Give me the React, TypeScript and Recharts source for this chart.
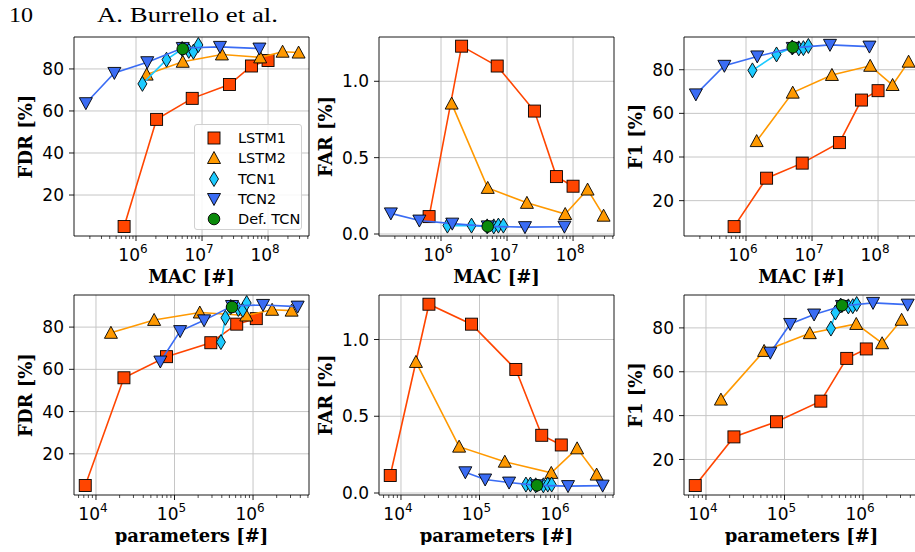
import React from "react";
import { ScatterChart, Scatter, XAxis, YAxis, CartesianGrid, ReferenceArea } from "recharts";

// values (x in MAC / parameters, y in %)
const macLstm1 = [6.6e5, 2.05e6, 7.1e6, 2.6e7, 5.6e7, 1.0e8];
const paramLstm1 = [7.3e3, 2.27e4, 7.9e4, 2.9e5, 6.2e5, 1.1e6];
const fdrLstm1 = [5, 56, 66, 72.6, 81.4, 84];
const farLstm1 = [0.114, 1.23, 1.1, 0.805, 0.376, 0.313];
const f1Lstm1 = [8.1, 30.3, 37.2, 46.6, 66.1, 70.4];

const macLstm2 = [1.45e6, 5.1e6, 2.0e7, 7.6e7, 1.66e8, 2.9e8];
const paramLstm2 = [1.55e4, 5.5e4, 2.1e5, 8.2e5, 1.75e6, 3.1e6];
const fdrLstm2 = [77.3, 83.4, 86.9, 85.5, 88.2, 87.8];
const farLstm2 = [0.854, 0.302, 0.204, 0.131, 0.291, 0.12];
const f1Lstm2 = [47.3, 69.5, 77.6, 81.8, 73, 83.7];

const macTcn1 = [1.25e6, 2.9e6, 5.0e6, 6.3e6, 7.4e6, 8.8e6];
const paramTcn1 = [3.9e5, 4.45e5, 5.2e5, 6.5e5, 7.4e5, 8.3e5];
const fdrTcn1 = [72.9, 84.4, 89.5, 88.6, 88.2, 91.4];
const farTcn1 = [0.055, 0.055, 0.05, 0.05, 0.055, 0.055];
const f1Tcn1 = [79.7, 87, 90.2, 89.8, 89.9, 90.9];

const macTcn2 = [1.74e5, 4.7e5, 1.48e6, 5.1e6, 1.87e7, 7.4e7];
const paramTcn2 = [6.6e4, 1.18e5, 2.38e5, 5.4e5, 1.34e6, 3.7e6];
const fdrTcn2 = [63.7, 78.1, 83.2, 90, 90.5, 89.7];
const farTcn2 = [0.135, 0.088, 0.068, 0.05, 0.045, 0.048];
const f1Tcn2 = [68.7, 81.8, 86.1, 90, 91.4, 90.6];

const macDef = [5.1e6];
const paramDef = [5.4e5];
const fdrDef = [89.5];
const farDef = [0.05];
const f1Def = [90.3];

const seriesNames = ["LSTM1", "LSTM2", "TCN1", "TCN2", "Def. TCN"];

const macMajors = [1e6, 1e7, 1e8];
const paramMajors = [1e4, 1e5, 1e6];
const pctTicks = [20, 40, 60, 80];
const farTicks = [0, 0.5, 1.0];

const macDomain = [1.15e5, 4.17e8];
const paramDomain = [5.25e3, 5.16e6];
const fdrDomain = [0.5, 95.2];
const farDomain = [-0.013, 1.29];
const f1Domain = [3.8, 95];

const COLORS = ["#ff4500", "#ff9900", "#1ccaff", "#3a6cf4", "#0b8a0b"];
const KINDS = ["square", "up", "diamond", "down", "circle"];

const SANS = "DejaVu Sans, sans-serif";
const SERIF = "DejaVu Serif, serif";

const zip = (xs: number[], ys: number[]) => xs.map((x, i) => ({ x, y: ys[i] }));

function minorTicks(majors: number[], domain: number[]) {
  const out: number[] = [];
  const lo = Math.floor(Math.log10(domain[0]));
  const hi = Math.ceil(Math.log10(domain[1]));
  for (let e = lo; e <= hi; e++) {
    for (let m = 1; m <= 9; m++) {
      const v = m * Math.pow(10, e);
      if (v >= domain[0] && v <= domain[1]) out.push(v);
    }
  }
  return out.filter((v) => majors.indexOf(v) < 0).concat(majors).sort((a, b) => a - b);
}

function Marker({ kind, color, cx, cy }: any) {
  if (cx == null || cy == null || isNaN(cx) || isNaN(cy)) return <g />;
  const st = { fill: color, stroke: "#000", strokeWidth: 0.9 };
  if (kind === "square") return <rect x={cx - 6} y={cy - 6} width={12} height={12} {...st} />;
  if (kind === "up")
    return <polygon points={`${cx},${cy - 6.5} ${cx - 6.5},${cy + 5.5} ${cx + 6.5},${cy + 5.5}`} {...st} />;
  if (kind === "down")
    return <polygon points={`${cx},${cy + 6.5} ${cx - 6.5},${cy - 5.5} ${cx + 6.5},${cy - 5.5}`} {...st} />;
  if (kind === "diamond")
    return <polygon points={`${cx},${cy - 7.5} ${cx + 4.5},${cy} ${cx},${cy + 7.5} ${cx - 4.5},${cy}`} {...st} />;
  return <circle cx={cx} cy={cy} r={5.8} {...st} />;
}

function XTick({ x, y, payload }: any) {
  const v = payload.value;
  const lg = Math.log10(v);
  const e = Math.round(lg);
  const major = Math.abs(lg - e) < 1e-6;
  return (
    <g>
      <line x1={x} x2={x} y1={y} y2={y + (major ? 5 : 3)} stroke="#000" strokeWidth={major ? 0.9 : 0.7} />
      {major && (
        <text x={x - 3} y={y + 25} textAnchor="middle" fontFamily={SANS} fontSize={17} fill="#000">
          10<tspan dy={-8} fontSize={12}>{e}</tspan>
        </text>
      )}
    </g>
  );
}

function YTick({ x, y, payload, fmt }: any) {
  return (
    <g>
      <line x1={x - 5} x2={x} y1={y} y2={y} stroke="#000" strokeWidth={0.9} />
      <text x={x - 10} y={y} dy="0.36em" textAnchor="end" fontFamily={SANS} fontSize={17} fill="#000">
        {fmt(payload.value)}
      </text>
    </g>
  );
}

interface PanelProps {
  left: number;
  top: number;
  plotH: number;
  xDomain: number[];
  xMajors: number[];
  yDomain: number[];
  yTicks: number[];
  yFmt: (v: number) => string;
  xs: number[][];
  ys: number[][];
  xLabel: string;
  yLabel: string;
  yLabelX: number;
}

function Panel(p: PanelProps) {
  const yAxisW = 74;
  const plotW = 235;
  const width = yAxisW + plotW + 6;
  const height = 10 + p.plotH + 50;
  const ticks = minorTicks(p.xMajors, p.xDomain);
  return (
    <div style={{ position: "absolute", left: p.left - yAxisW, top: p.top - 10 }}>
      <ScatterChart width={width} height={height} margin={{ top: 10, right: 6, left: 0, bottom: 0 }}>
        <CartesianGrid stroke="#c6c6c6" strokeWidth={1} verticalValues={p.xMajors} horizontalValues={p.yTicks} />
        <XAxis
          type="number"
          dataKey="x"
          scale="log"
          domain={p.xDomain}
          allowDataOverflow
          ticks={ticks}
          interval={0}
          height={50}
          tickSize={0}
          tickMargin={0}
          axisLine={false}
          tickLine={false}
          tick={<XTick />}
          label={{
            content: ({ viewBox }: any) => (
              <text
                x={viewBox.x + viewBox.width / 2}
                y={viewBox.y + 47}
                textAnchor="middle"
                fontFamily={SERIF}
                fontWeight="bold"
                fontSize={18}
                fill="#000"
              >
                {p.xLabel}
              </text>
            ),
          }}
        />
        <YAxis
          type="number"
          dataKey="y"
          domain={p.yDomain}
          allowDataOverflow
          ticks={p.yTicks}
          interval={0}
          width={yAxisW}
          tickSize={0}
          tickMargin={0}
          axisLine={false}
          tickLine={false}
          tick={<YTick fmt={p.yFmt} />}
          label={{
            content: ({ viewBox }: any) => {
              const cx = viewBox.x + p.yLabelX;
              const cy = viewBox.y + viewBox.height / 2;
              return (
                <text
                  x={cx}
                  y={cy}
                  transform={`rotate(-90 ${cx} ${cy})`}
                  textAnchor="middle"
                  dominantBaseline="central"
                  fontFamily={SERIF}
                  fontWeight="bold"
                  fontSize={18}
                  fill="#000"
                >
                  {p.yLabel}
                </text>
              );
            },
          }}
        />
        {p.xs.map((xv, i) => (
          <Scatter
            key={seriesNames[i]}
            name={seriesNames[i]}
            data={zip(xv, p.ys[i])}
            fill={COLORS[i]}
            line={{ stroke: COLORS[i], strokeWidth: 1.6 }}
            lineType="joint"
            shape={(sp: any) => <Marker kind={KINDS[i]} color={COLORS[i]} cx={sp.cx} cy={sp.cy} />}
            isAnimationActive={false}
          />
        ))}
        <ReferenceArea
          x1={p.xDomain[0]}
          x2={p.xDomain[1]}
          y1={p.yDomain[0]}
          y2={p.yDomain[1]}
          fill="none"
          fillOpacity={0}
          stroke="#000"
          strokeWidth={0.9}
          ifOverflow="visible"
        />
      </ScatterChart>
    </div>
  );
}

function LegendBox() {
  return (
    <div
      style={{
        position: "absolute",
        left: 194,
        top: 124,
        width: 106,
        height: 104,
        border: "1px solid #d0d0d0",
        borderRadius: 3,
        background: "rgba(255,255,255,0.85)",
      }}
    >
      {seriesNames.map((n, i) => (
        <div
          key={n}
          style={{ position: "absolute", left: 0, top: 3 + i * 20.3, height: 20, width: 106, display: "flex", alignItems: "center" }}
        >
          <svg width={40} height={20} style={{ flex: "none" }}>
            <Marker kind={KINDS[i]} color={COLORS[i]} cx={19} cy={10} />
          </svg>
          <span style={{ fontFamily: SANS, fontSize: 14.5, marginLeft: 3, color: "#000" }}>{n}</span>
        </div>
      ))}
    </div>
  );
}

const fmtInt = (v: number) => String(v);
const fmtOne = (v: number) => v.toFixed(1);

export default function App() {
  const macX = [macLstm1, macLstm2, macTcn1, macTcn2, macDef];
  const parX = [paramLstm1, paramLstm2, paramTcn1, paramTcn2, paramDef];
  const fdr = [fdrLstm1, fdrLstm2, fdrTcn1, fdrTcn2, fdrDef];
  const far = [farLstm1, farLstm2, farTcn1, farTcn2, farDef];
  const f1 = [f1Lstm1, f1Lstm2, f1Tcn1, f1Tcn2, f1Def];
  const cols = [74, 379, 684];
  const rows = [
    { top: 37, h: 199, xs: macX, xDomain: macDomain, xMajors: macMajors, xLabel: "MAC [#]" },
    { top: 295, h: 200, xs: parX, xDomain: paramDomain, xMajors: paramMajors, xLabel: "parameters [#]" },
  ];
  const metrics = [
    { ys: fdr, yDomain: fdrDomain, yTicks: pctTicks, yFmt: fmtInt, yLabel: "FDR [%]", yLabelX: 25 },
    { ys: far, yDomain: farDomain, yTicks: farTicks, yFmt: fmtOne, yLabel: "FAR [%]", yLabelX: 20 },
    { ys: f1, yDomain: f1Domain, yTicks: pctTicks, yFmt: fmtInt, yLabel: "F1 [%]", yLabelX: 25 },
  ];
  return (
    <div
      style={{
        position: "absolute",
        left: 0,
        top: 0,
        width: 915,
        height: 552,
        overflow: "hidden",
        background: "#fff",
      }}
    >
      <svg width={915} height={30} style={{ position: "absolute", left: 0, top: 0 }}>
        <text x={9} y={22} fontFamily="Liberation Serif, serif" fontSize={21} textLength={24} lengthAdjust="spacingAndGlyphs">
          10
        </text>
        <text x={97} y={22} fontFamily="Liberation Serif, serif" fontSize={21} textLength={181} lengthAdjust="spacingAndGlyphs">
          A. Burrello et al.
        </text>
      </svg>
      {rows.map((r, ri) =>
        metrics.map((m, mi) => (
          <Panel
            key={`${ri}-${mi}`}
            left={cols[mi]}
            top={r.top}
            plotH={r.h}
            xDomain={r.xDomain}
            xMajors={r.xMajors}
            yDomain={m.yDomain}
            yTicks={m.yTicks}
            yFmt={m.yFmt}
            xs={r.xs}
            ys={m.ys}
            xLabel={r.xLabel}
            yLabel={m.yLabel}
            yLabelX={m.yLabelX}
          />
        ))
      )}
      <LegendBox />
    </div>
  );
}
